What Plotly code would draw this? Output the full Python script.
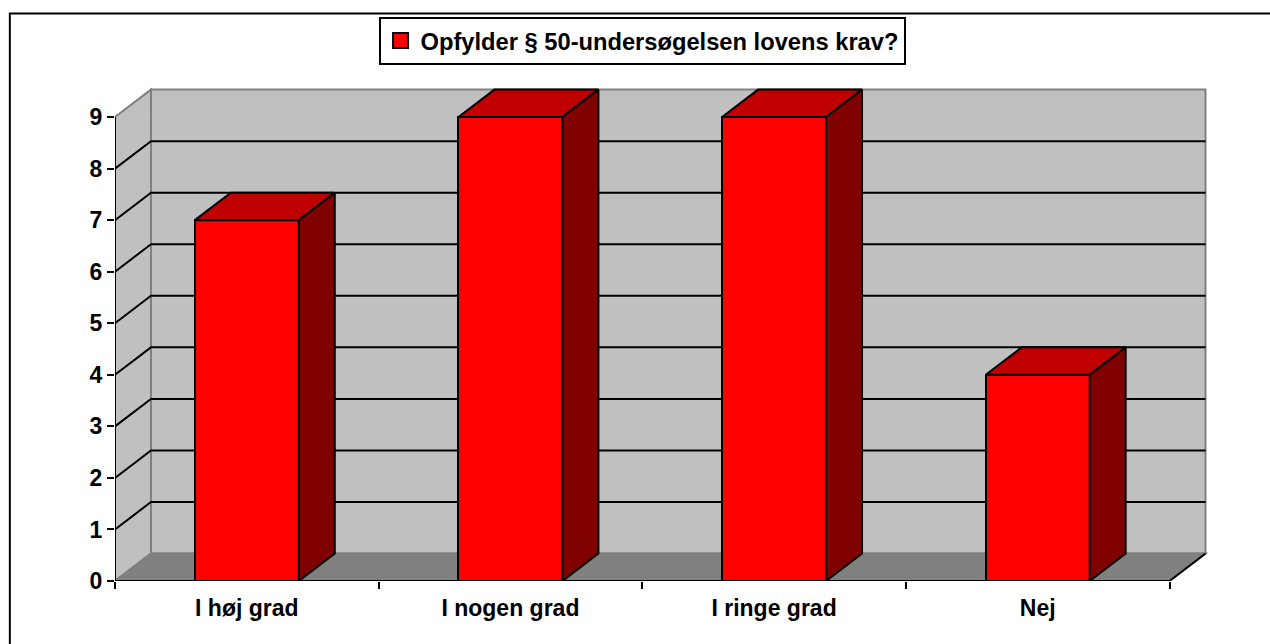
import plotly.graph_objects as go

# --- data ---
categories = ["I høj grad", "I nogen grad", "I ringe grad", "Nej"]
values = [7, 9, 9, 4]
series_name = "Opfylder § 50-undersøgelsen lovens krav?"
y_ticks = list(range(10))

# --- 3-D look: depth offset and bar width in axis units ---
DX = 36 / 263.75
DY = 27.5 / 51.6
BAR_W = 104 / 263.75
X0, X1 = -0.5, len(categories) - 0.5
YMAX = 9

FRONT, TOP, SIDE = "#FF0000", "#C00000", "#800000"
WALL, FLOOR, EDGE = "#C0C0C0", "#808080", "#808080"
BLACK = "#000000"

W, H = 1270, 644
L, R, T, B = 114.7, 1209.2, 84.5, 581

fig = go.Figure()


def poly(pts):
    return "M" + " L".join(f"{x},{y}" for x, y in pts) + (" Z")


shapes = []
# back wall
shapes.append(dict(type="path", path=poly([(X0 + DX, DY), (X1 + DX, DY), (X1 + DX, YMAX + DY), (X0 + DX, YMAX + DY)]),
                   fillcolor=WALL, line=dict(color=EDGE, width=2), layer="below"))
# side wall
shapes.append(dict(type="path", path=poly([(X0, 0), (X0 + DX, DY), (X0 + DX, YMAX + DY), (X0, YMAX)]),
                   fillcolor=WALL, line=dict(color=EDGE, width=2), layer="below"))
# floor
shapes.append(dict(type="path", path=poly([(X0, 0), (X0 + DX, DY), (X1 + DX, DY), (X1, 0)]),
                   fillcolor=FLOOR, line=dict(color=EDGE, width=2), layer="below"))
# grid lines running round the two walls
for k in range(1, YMAX):
    shapes.append(dict(type="path", path=f"M{X0},{k} L{X0 + DX},{k + DY} L{X1 + DX},{k + DY}",
                       line=dict(color=BLACK, width=2), layer="below"))
# right floor edge
shapes.append(dict(type="line", x0=X1, y0=0, x1=X1 + DX, y1=DY, line=dict(color=BLACK, width=2), layer="below"))

# outer frame of the chart, cut off by the page at right and bottom
fx = lambda px: (px - L) / (R - L)
fy = lambda py: (B - py) / (B - T)
shapes.append(dict(type="path", xref="paper", yref="paper",
                   path=f"M{fx(9.5)},{fy(646)} L{fx(9.5)},{fy(13)} L{fx(1272)},{fy(13)}",
                   line=dict(color=BLACK, width=2), layer="below"))

# front faces
fig.add_trace(go.Bar(x=list(range(len(categories))), y=values, width=BAR_W,
                     marker=dict(color=FRONT, line=dict(color=BLACK, width=2)),
                     showlegend=False, hoverinfo="skip"))

# top and side faces
for i, v in enumerate(values):
    a, b = i - BAR_W / 2, i + BAR_W / 2
    fig.add_trace(go.Scatter(x=[a, b, b + DX, a + DX, a], y=[v, v, v + DY, v + DY, v], mode="lines",
                             fill="toself", fillcolor=TOP, line=dict(color=BLACK, width=2),
                             showlegend=False, hoverinfo="skip", cliponaxis=False))
    fig.add_trace(go.Scatter(x=[b, b + DX, b + DX, b, b], y=[0, DY, v + DY, v, 0], mode="lines",
                             fill="toself", fillcolor=SIDE, line=dict(color=BLACK, width=2),
                             showlegend=False, hoverinfo="skip", cliponaxis=False))

# axis lines, stopping at the front plane
fig.add_trace(go.Scatter(x=[X0, X1], y=[0, 0], mode="lines", line=dict(color=BLACK, width=2),
                         showlegend=False, hoverinfo="skip", cliponaxis=False))
fig.add_trace(go.Scatter(x=[X0, X0], y=[0, YMAX], mode="lines", line=dict(color=BLACK, width=2),
                         showlegend=False, hoverinfo="skip", cliponaxis=False))

# legend entry
fig.add_trace(go.Scatter(x=[None], y=[None], mode="markers", name=series_name,
                         marker=dict(symbol="square", size=15, color=FRONT, line=dict(color=BLACK, width=2))))

font = dict(family="Liberation Sans, Arial, sans-serif", size=23, color=BLACK, weight="bold")
legend_font = dict(font, size=23.7)

fig.update_layout(
    width=W, height=H, autosize=False,
    margin=dict(l=L, r=W - R, t=T, b=H - B, pad=0),
    paper_bgcolor="#FFFFFF", plot_bgcolor="rgba(0,0,0,0)",
    font=font, shapes=shapes, hovermode=False, barmode="overlay",
    xaxis=dict(range=[X0, X0 + (R - L) / 263.75], tickmode="array",
               tickvals=list(range(len(categories))), ticktext=categories,
               ticks="outside", ticklen=6, tickcolor="rgba(0,0,0,0)", showgrid=False, zeroline=False,
               showline=False, tickfont=font,
               minor=dict(tickmode="array", tickvals=[X0 + i for i in range(len(categories) + 1)], ticks="outside",
                          ticklen=7, tickcolor=BLACK, tickwidth=2, showgrid=False)),
    yaxis=dict(range=[0, (B - T) / 51.6], tickmode="array", tickvals=y_ticks, ticktext=[str(t) for t in y_ticks],
               ticks="outside", ticklen=7, tickwidth=2, tickcolor=BLACK, showgrid=False, zeroline=False,
               showline=False, tickfont=font),
    legend=dict(x=fx(642), xanchor="center", y=fy(16), yanchor="top", bgcolor="#FFFFFF",
                bordercolor=BLACK, borderwidth=2, font=legend_font, itemclick=False, itemdoubleclick=False),
    bargap=0,
)

fig.write_html("out.html", config=dict(displayModeBar=False),
               post_script="document.documentElement.style.overflow='hidden';document.body.style.margin='0';")
